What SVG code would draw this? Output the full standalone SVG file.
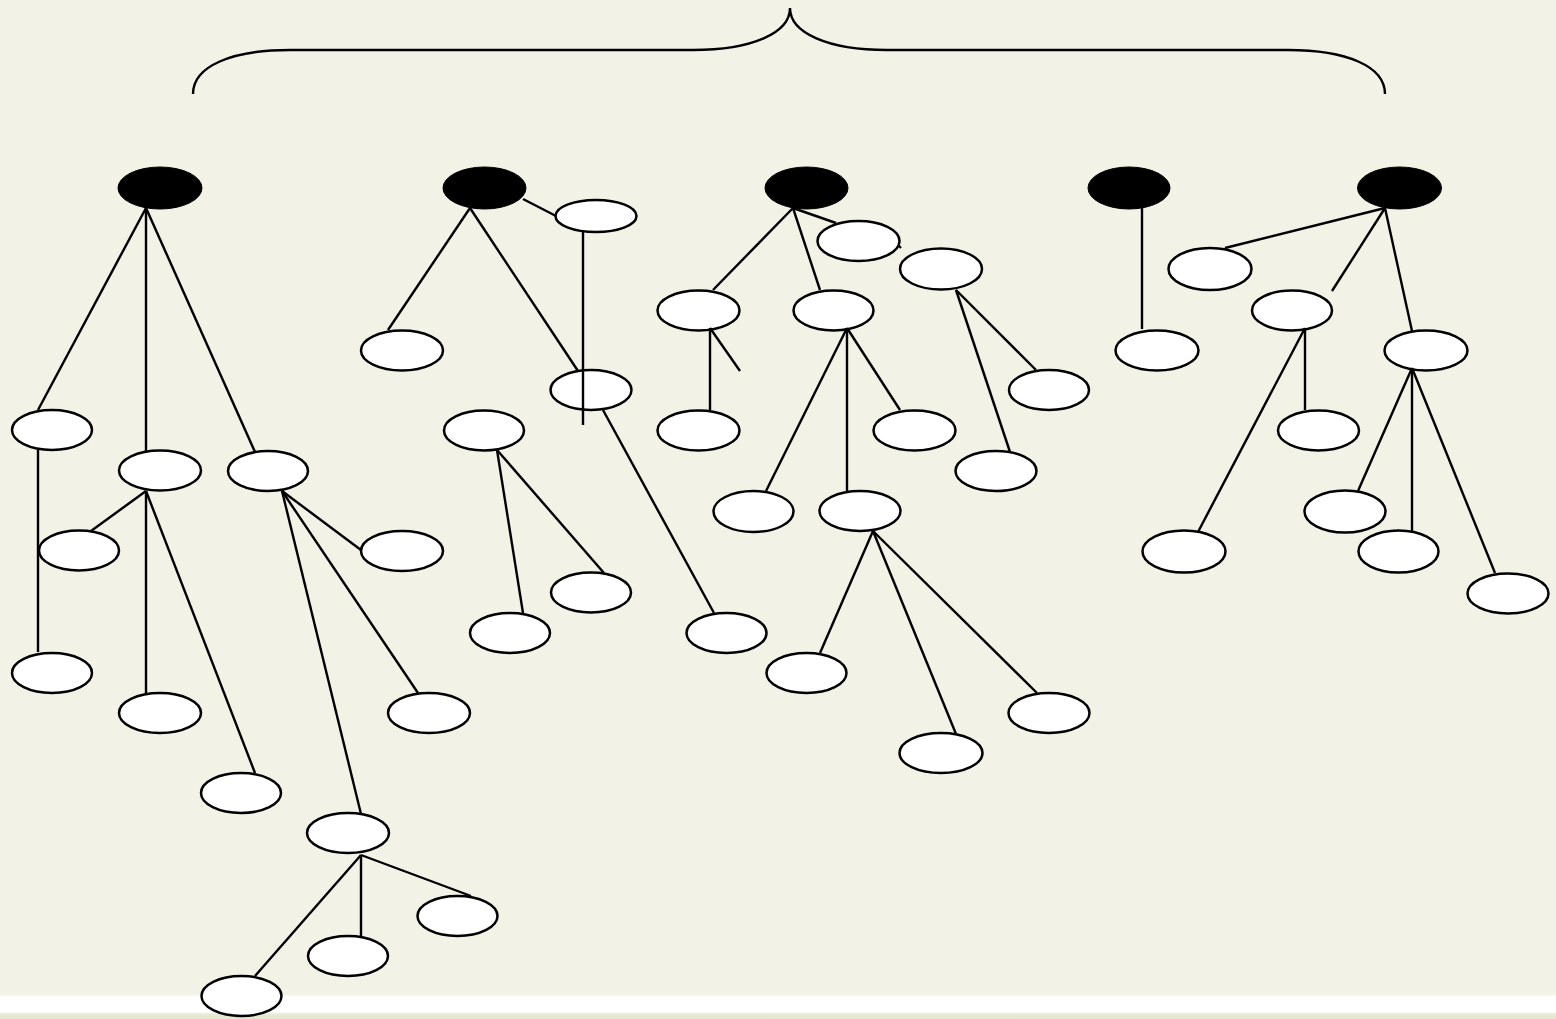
<svg xmlns="http://www.w3.org/2000/svg" width="1556" height="1019" viewBox="0 0 1556 1019">
<defs>
<style>
.root{fill:#000;stroke:#000;stroke-width:1}
.n{fill:#fff;stroke:#000;stroke-width:2.5}
.c line,.c path{stroke:#000;stroke-width:2.4;fill:none;stroke-linecap:butt}
</style>
<linearGradient id="bot" x1="0" y1="0" x2="0" y2="1">
<stop offset="0" stop-color="#F2F2E7"/>
<stop offset="0.12" stop-color="#FFFFFF"/>
<stop offset="0.7" stop-color="#FFFFFF"/>
<stop offset="0.82" stop-color="#E8EAD6"/>
<stop offset="1" stop-color="#E4E6CC"/>
</linearGradient>
</defs>
<rect x="0" y="0" width="1556" height="1019" fill="#F2F2E7"/>
<rect x="0" y="994" width="1556" height="25" fill="url(#bot)"/>

<g id="brace" class="c">
<path d="M193,94 C193,66 232,50 290,50 L693,50 C752,50 790,33 790,8 C790,33 828,50 887,50 L1288,50 C1346,50 1385,66 1385,94"/>
</g>

<g id="nodes">
<g id="t1-root"><ellipse class="root" cx="160" cy="188" rx="42" ry="21"/></g>
<g id="t1-a"><ellipse class="n" cx="52" cy="430" rx="40" ry="20"/></g>
<g id="t1-b"><ellipse class="n" cx="160" cy="470.5" rx="41" ry="20"/></g>
<g id="t1-c"><ellipse class="n" cx="268" cy="471" rx="40" ry="20"/></g>
<g id="t1-a1"><ellipse class="n" cx="52" cy="673" rx="40" ry="20"/></g>
<g id="t1-b1"><ellipse class="n" cx="79" cy="550.5" rx="40" ry="20"/></g>
<g id="t1-b2"><ellipse class="n" cx="160" cy="713" rx="41" ry="20"/></g>
<g id="t1-b3"><ellipse class="n" cx="241" cy="793" rx="40" ry="20"/></g>
<g id="t1-c1"><ellipse class="n" cx="402" cy="551" rx="41" ry="20"/></g>
<g id="t1-c2"><ellipse class="n" cx="429" cy="713" rx="41" ry="20"/></g>
<g id="t1-c3"><ellipse class="n" cx="348" cy="833" rx="41" ry="20"/></g>
<g id="t1-c3a"><ellipse class="n" cx="241.5" cy="996" rx="40" ry="20"/></g>
<g id="t1-c3b"><ellipse class="n" cx="348" cy="956" rx="40" ry="20"/></g>
<g id="t1-c3c"><ellipse class="n" cx="457.5" cy="916" rx="40" ry="20"/></g>

<g id="t2-root"><ellipse class="root" cx="484.5" cy="188" rx="41.5" ry="21"/></g>
<g id="t2-a"><ellipse class="n" cx="596" cy="216" rx="40.5" ry="16"/></g>
<g id="t2-b"><ellipse class="n" cx="402" cy="350.5" rx="41" ry="20"/></g>
<g id="t2-c"><ellipse class="n" cx="591" cy="390" rx="40.5" ry="20"/></g>
<g id="t2-d"><ellipse class="n" cx="484" cy="430.5" rx="40" ry="20"/></g>
<g id="t2-d1"><ellipse class="n" cx="510" cy="633" rx="40" ry="20"/></g>
<g id="t2-d2"><ellipse class="n" cx="591" cy="592.5" rx="40" ry="20"/></g>
<g id="t2-c1"><ellipse class="n" cx="726.5" cy="633" rx="40" ry="20"/></g>

<g id="t3-root"><ellipse class="root" cx="806.5" cy="188" rx="41.5" ry="21"/></g>
<g id="t3-a"><ellipse class="n" cx="698.5" cy="310.5" rx="41" ry="20"/></g>
<g id="t3-b"><ellipse class="n" cx="833.5" cy="310.5" rx="40" ry="20"/></g>
<g id="t3-c"><ellipse class="n" cx="858.5" cy="241" rx="41" ry="20"/></g>
<g id="t3-d"><ellipse class="n" cx="941" cy="269" rx="41" ry="20.5"/></g>
<g id="t3-a1"><ellipse class="n" cx="698.5" cy="430.5" rx="41" ry="20"/></g>
<g id="t3-b1"><ellipse class="n" cx="753.5" cy="511.5" rx="40" ry="20.5"/></g>
<g id="t3-b2"><ellipse class="n" cx="860" cy="511" rx="40.5" ry="20"/></g>
<g id="t3-b3"><ellipse class="n" cx="914.5" cy="430.5" rx="41" ry="20"/></g>
<g id="t3-d1"><ellipse class="n" cx="1049" cy="390" rx="40" ry="20"/></g>
<g id="t3-d2"><ellipse class="n" cx="996" cy="471" rx="40.5" ry="20"/></g>
<g id="t3-b2a"><ellipse class="n" cx="806.5" cy="673" rx="40" ry="20"/></g>
<g id="t3-b2b"><ellipse class="n" cx="941" cy="753" rx="41.5" ry="20"/></g>
<g id="t3-b2c"><ellipse class="n" cx="1049" cy="713" rx="40.5" ry="20"/></g>

<g id="t4-root"><ellipse class="root" cx="1129" cy="188" rx="41" ry="21"/></g>
<g id="t4-a"><ellipse class="n" cx="1157" cy="350.5" rx="41.5" ry="20"/></g>

<g id="t5-root"><ellipse class="root" cx="1399.5" cy="188" rx="42" ry="21"/></g>
<g id="t5-a"><ellipse class="n" cx="1210" cy="269" rx="41.5" ry="21"/></g>
<g id="t5-b"><ellipse class="n" cx="1292" cy="310.5" rx="40" ry="20"/></g>
<g id="t5-c"><ellipse class="n" cx="1426" cy="350.5" rx="41.5" ry="20"/></g>
<g id="t5-b1"><ellipse class="n" cx="1184" cy="551.5" rx="41.5" ry="21"/></g>
<g id="t5-b2"><ellipse class="n" cx="1318.5" cy="430.5" rx="40.5" ry="20"/></g>
<g id="t5-c1"><ellipse class="n" cx="1345" cy="511.5" rx="40.5" ry="21"/></g>
<g id="t5-c2"><ellipse class="n" cx="1398.5" cy="551.5" rx="40" ry="21"/></g>
<g id="t5-c3"><ellipse class="n" cx="1508" cy="593.5" rx="40.5" ry="20"/></g>
</g>

<g id="connectors" class="c">
<!-- tree 1 -->
<line x1="146" y1="208" x2="38" y2="410"/>
<line x1="146" y1="208" x2="146" y2="452"/>
<line x1="146" y1="208" x2="255" y2="452"/>
<line x1="38" y1="450" x2="38" y2="652"/>
<line x1="146" y1="491" x2="91" y2="531"/>
<line x1="146" y1="491" x2="146" y2="693"/>
<line x1="146" y1="491" x2="255" y2="773"/>
<line x1="282" y1="491" x2="361" y2="550"/>
<line x1="282" y1="491" x2="418" y2="693"/>
<line x1="282" y1="491" x2="361" y2="814"/>
<line x1="361" y1="855" x2="255" y2="976"/>
<line x1="361" y1="855" x2="361" y2="936"/>
<line x1="361" y1="855" x2="471" y2="896"/>
<!-- tree 2 -->
<line x1="470" y1="208" x2="388" y2="330"/>
<line x1="470" y1="208" x2="578" y2="371"/>
<line x1="523" y1="199" x2="556" y2="216"/>
<line x1="583" y1="231" x2="583" y2="425"/>
<line x1="603" y1="410" x2="714" y2="613"/>
<line x1="497" y1="450" x2="523" y2="613"/>
<line x1="497" y1="450" x2="604" y2="573"/>
<!-- tree 3 -->
<line x1="793" y1="208" x2="713" y2="290"/>
<line x1="793" y1="208" x2="820" y2="290"/>
<line x1="793" y1="208" x2="836" y2="223"/>
<line x1="898" y1="245" x2="901" y2="248"/>
<line x1="710" y1="328" x2="710" y2="410"/>
<line x1="710" y1="328" x2="740" y2="371"/>
<line x1="847" y1="328" x2="766" y2="491"/>
<line x1="847" y1="328" x2="847" y2="491"/>
<line x1="847" y1="328" x2="900" y2="410"/>
<line x1="956" y1="290" x2="1036" y2="370"/>
<line x1="956" y1="290" x2="1010" y2="452"/>
<line x1="873" y1="531" x2="820" y2="653"/>
<line x1="873" y1="531" x2="956" y2="734"/>
<line x1="873" y1="531" x2="1037" y2="693"/>
<!-- tree 4 -->
<line x1="1142" y1="208" x2="1142" y2="329"/>
<!-- tree 5 -->
<line x1="1385" y1="208" x2="1225" y2="248"/>
<line x1="1385" y1="208" x2="1332" y2="291"/>
<line x1="1385" y1="208" x2="1412" y2="331"/>
<line x1="1305" y1="328" x2="1198" y2="532"/>
<line x1="1305" y1="328" x2="1305" y2="410"/>
<line x1="1412" y1="368" x2="1358" y2="491"/>
<line x1="1412" y1="368" x2="1412" y2="531"/>
<line x1="1412" y1="368" x2="1495" y2="573"/>
</g>
</svg>
